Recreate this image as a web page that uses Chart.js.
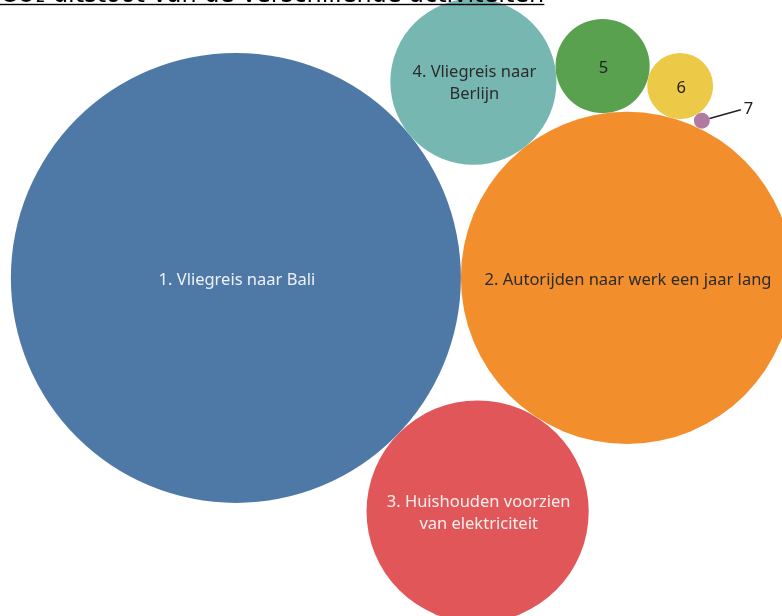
<!DOCTYPE html>
<html>
<head>
<meta charset="utf-8">
<script src="https://cdn.jsdelivr.net/npm/chart.js@4/dist/chart.umd.min.js"></script>
<style>
  html, body { margin: 0; padding: 0; background: #fff; }
  #wrap { position: relative; width: 782px; height: 616px; }
</style>
</head>
<body>
<div id="wrap"><canvas id="bubbles"></canvas></div>
<script>
'use strict';

const chartTitle = 'CO\u2082 uitstoot van de verschillende activiteiten';
const activities = ['Vliegreis naar Bali', 'Autorijden naar werk een jaar lang', 'Huishouden voorzien van elektriciteit',
  'Vliegreis naar Berlijn', 'Activiteit 5', 'Activiteit 6', 'Activiteit 7'];
const labelLines = [
  ['1. Vliegreis naar Bali'],
  ['2. Autorijden naar werk een jaar lang'],
  ['3. Huishouden voorzien', 'van elektriciteit'],
  ['4. Vliegreis naar', 'Berlijn'],
  ['5'], ['6'], ['7']
];
// kg CO2 per activity, bubble area follows the value
const co2Kg = [4000, 2180, 975, 545, 175, 86, 5];
const bubbleColors = ['#4e79a7', '#f28e2b', '#e15759', '#76b7b2', '#59a14f', '#edc948', '#b07aa1'];
const labelColors = ['#eef2f6', '#2b2b2b', '#fbeeee', '#2b2b2b', '#1f1f1f', '#1f1f1f', '#1f1f1f'];

// each bubble after the first two rests against two earlier ones: [a, b, side]
const packing = [null, null, [0, 1, -1], [0, 1, 1], [3, 1, 1], [4, 1, 1], [5, 1, 1]];

//lay out the bubbles in data units, radius = sqrt(value)
function packBubbles(values){
  let circles = values.map(v => ({r: Math.sqrt(v), x: 0, y: 0}));
  circles[1].x = circles[0].r + circles[1].r;
  for(let i = 2; i < circles.length; i++){
    let [ia, ib, side] = packing[i];
    let a = circles[ia], b = circles[ib], c = circles[i];
    let dx = b.x - a.x, dy = b.y - a.y;
    let d = Math.hypot(dx, dy);
    let da = a.r + c.r, db = b.r + c.r;
    let along = (da * da - db * db + d * d) / (2 * d);
    let h = Math.sqrt(Math.max(0, da * da - along * along));
    let ux = dx / d, uy = dy / d;
    c.x = a.x + along * ux - side * h * uy;
    c.y = a.y + along * uy + side * h * ux;
  }
  return circles;
}

const circles = packBubbles(co2Kg);
const points = () => circles.map(c => ({x: c.x, y: c.y}));

//bubble radius in pixels through the x scale (0 until the scale has a layout)
function pixelRadius(chart, r){
  let xs = chart.scales.x;
  if(!xs) return 0;
  let px = Math.abs(xs.getPixelForValue(r) - xs.getPixelForValue(0));
  return isFinite(px) ? px : 0;
}

//offset of the callout for bubbles too small to hold their label
const calloutOffset = {6: [39, -11]};

const titlePlugin = {
  id: 'underlinedTitle',
  afterDraw(chart){
    let ctx = chart.ctx;
    ctx.save();
    ctx.font = '24px "DejaVu Sans"';
    ctx.fillStyle = '#000';
    ctx.textAlign = 'left';
    ctx.textBaseline = 'alphabetic';
    ctx.fillText(chartTitle, 0, 1.5);
    let w = ctx.measureText(chartTitle).width;
    ctx.fillRect(0, 3.8, w, 1.4);
    ctx.restore();
  }
};

const labelPlugin = {
  id: 'bubbleLabels',
  afterDatasetsDraw(chart){
    let ctx = chart.ctx;
    let meta = chart.getDatasetMeta(0);
    ctx.save();
    ctx.font = '16.5px "Noto Sans"';
    ctx.textAlign = 'center';
    ctx.textBaseline = 'middle';
    meta.data.forEach((el, i) => {
      let lines = labelLines[i];
      if(calloutOffset[i]){
        let r = el.options.radius;
        let [ox, oy] = calloutOffset[i];
        let len = Math.hypot(ox, oy);
        ctx.strokeStyle = '#222';
        ctx.lineWidth = 1.5;
        ctx.beginPath();
        ctx.moveTo(el.x + ox / len * r, el.y + oy / len * r);
        ctx.lineTo(el.x + ox, el.y + oy);
        ctx.stroke();
        ctx.fillStyle = labelColors[i];
        ctx.textAlign = 'left';
        ctx.fillText(lines[0], el.x + ox + 3, el.y + oy);
        ctx.textAlign = 'center';
        return;
      }
      let lineH = 22;
      ctx.fillStyle = labelColors[i];
      lines.forEach((line, k) => {
        let y = el.y + 2 + (k - (lines.length - 1) / 2) * lineH;
        ctx.fillText(line, el.x + 1, y);
      });
    });
    ctx.restore();
  }
};

const chart = new Chart(document.getElementById('bubbles'), {
  type: 'bubble',
  data: {
    labels: activities,
    datasets: [{
      label: chartTitle,
      data: points(),
      backgroundColor: bubbleColors,
      borderWidth: 0,
      hoverBorderWidth: 0,
      clip: false
    }]
  },
  options: {
    responsive: true,
    maintainAspectRatio: false,
    animation: false,
    events: [],
    layout: {padding: 0, autoPadding: false},
    elements: {
      point: {
        radius: ctx => pixelRadius(ctx.chart, circles[ctx.dataIndex].r),
        hoverRadius: 0
      }
    },
    plugins: {legend: {display: false}, tooltip: {enabled: false}, title: {display: false}},
    scales: {
      x: {type: 'linear', min: -66.3, max: 153.5, display: false},
      y: {type: 'linear', min: -95.0, max: 78.1, display: false}
    }
  },
  plugins: [labelPlugin, titlePlugin]
});

//bubble radii are parsed with the data, so parse again once the scales are laid out
chart.data.datasets[0].data = points();
chart.update();
</script>
</body>
</html>
